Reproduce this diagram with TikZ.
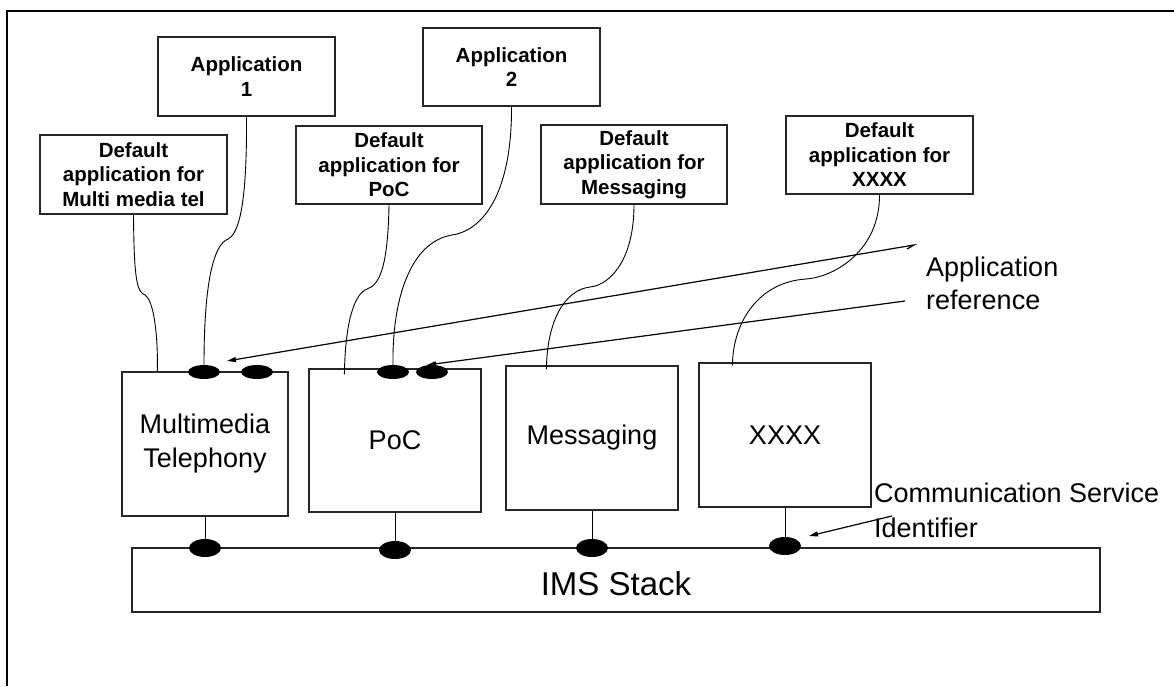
\documentclass[tikz,border=0pt]{standalone}
\usepackage{fontspec}
\setmainfont{Liberation Sans}
\usetikzlibrary{shapes.geometric,arrows.meta}
\begin{document}
\begin{tikzpicture}[x=1pt,y=-1pt,
  appbox/.style={draw=black!85, line width=1.2pt, inner sep=0, align=center,
    font=\fontsize{20.5}{24.5}\selectfont\bfseries},
  svcbox/.style={draw=black!85, line width=1.2pt, inner sep=0, align=center,
    font=\fontsize{27}{34}\selectfont},
  topdot/.style={ellipse, fill=black, inner sep=0, minimum width=32pt, minimum height=14pt},
  stackdot/.style={ellipse, fill=black, inner sep=0, minimum width=32pt, minimum height=18pt},
  wire/.style={line width=0.9pt},
  pointer/.style={line width=1.2pt, -{Triangle[length=9pt,width=5pt]}},
  note/.style={inner sep=0, align=left}]

\useasboundingbox (0,0) rectangle (1174,686);

% page frame
\draw[line width=1.2pt] (7,686) -- (7,11) -- (1174,11);

% applications and default applications
\node[appbox, minimum width=177pt, minimum height=79pt] (app1) at (246.5,76.5) {Application\\1};
\node[appbox, minimum width=177pt, minimum height=78pt] (app2) at (511.5,67) {Application\\2};
\node[appbox, minimum width=187pt, minimum height=79pt] (dmm) at (133.5,174.5) {Default\\application for\\Multi media tel};
\node[appbox, minimum width=186pt, minimum height=78pt] (dpoc) at (389,165) {Default\\application for\\PoC};
\node[appbox, minimum width=186pt, minimum height=79pt] (dmsg) at (634,164.5) {Default\\application for\\Messaging};
\node[appbox, minimum width=187pt, minimum height=78pt] (dxx) at (879.5,155) {Default\\application for\\XXXX};

% communication services
\node[svcbox, minimum width=166pt, minimum height=144pt] (mm) at (205,444) {Multimedia\\Telephony};
\node[svcbox, minimum width=172pt, minimum height=143pt] (poc) at (395,440.5) {PoC};
\node[svcbox, minimum width=172pt, minimum height=144pt] (msg) at (592,438) {Messaging};
\node[svcbox, minimum width=172pt, minimum height=144pt] (xx) at (785,435) {XXXX};

% IMS stack
\node[svcbox, minimum width=968pt, minimum height=64pt, text height=31pt, text depth=0pt,
  font=\fontsize{33}{40}\selectfont] (ims) at (616,580) {IMS Stack};

% application reference points
\node[topdot] (e1) at (204,372) {};
\node[topdot] (e2) at (257,372) {};
\node[topdot] (p1) at (393,372) {};
\node[topdot] (p2) at (432,372) {};

% communication service identifiers
\node[stackdot] (s1) at (205,548) {};
\node[stackdot] (s2) at (395,550) {};
\node[stackdot] (s3) at (592,548) {};
\node[stackdot] (s4) at (785,546) {};

\draw[wire] (mm.south) -- (s1.north);
\draw[wire] (poc.south) -- (s2.north);
\draw[wire] (msg.south) -- (s3.north);
\draw[wire] (xx.south) -- (s4.north);

% bends of the application links
\coordinate (k1) at (145,295);
\coordinate (k2) at (226,240);
\coordinate (k3) at (367,289);
\coordinate (k4) at (452,235);
\coordinate (k5) at (590,287);
\coordinate (k6) at (806,279);

\draw[wire] (dmm.south) .. controls (134,280) and (137,292) .. (k1)
  .. controls (153,300) and (158,330) .. ([xshift=36pt]mm.north west);
\draw[wire] (app1.south) .. controls (247,200) and (240,236) .. (k2)
  .. controls (210,250) and (204,300) .. (e1.north);
\draw[wire] (dpoc.south) .. controls (388,265) and (380,285) .. (k3)
  .. controls (352,295) and (345,330) .. ([xshift=36pt,yshift=-6pt]poc.north west);
\draw[wire] (app2.south) .. controls (512,190) and (485,230) .. (k4)
  .. controls (410,242) and (392,300) .. (p1.north);
\draw[wire] (dmsg.south) .. controls (634,260) and (610,285) .. (k5)
  .. controls (565,290) and (547,320) .. ([xshift=41pt,yshift=-4pt]msg.north west);
\draw[wire] (dxx.south) .. controls (880,250) and (835,277) .. (k6)
  .. controls (760,282) and (733,320) .. ([xshift=34pt,yshift=-3pt]xx.north west);

% labels
\node[note, anchor=north west, font=\fontsize{27}{33}\selectfont] (appref) at (926,257) {Application\\reference};
\node[note, anchor=north west, font=\fontsize{27}{35}\selectfont] (csi) at (874,483) {Communication Service\\Identifier};

% pointers
\coordinate (r1) at (914,245);
\coordinate (t1) at (227,361);
\coordinate (r2) at (905,301);
\coordinate (t2) at (427,365);
\coordinate (r3) at (892,516);
\coordinate (t3) at (809,536);

\draw[pointer] (r1) ++(-7,4) -- (r1) -- (t1);
\draw[pointer] (r2) -- (t2);
\draw[pointer] (r3) -- (t3);

\end{tikzpicture}
\end{document}
